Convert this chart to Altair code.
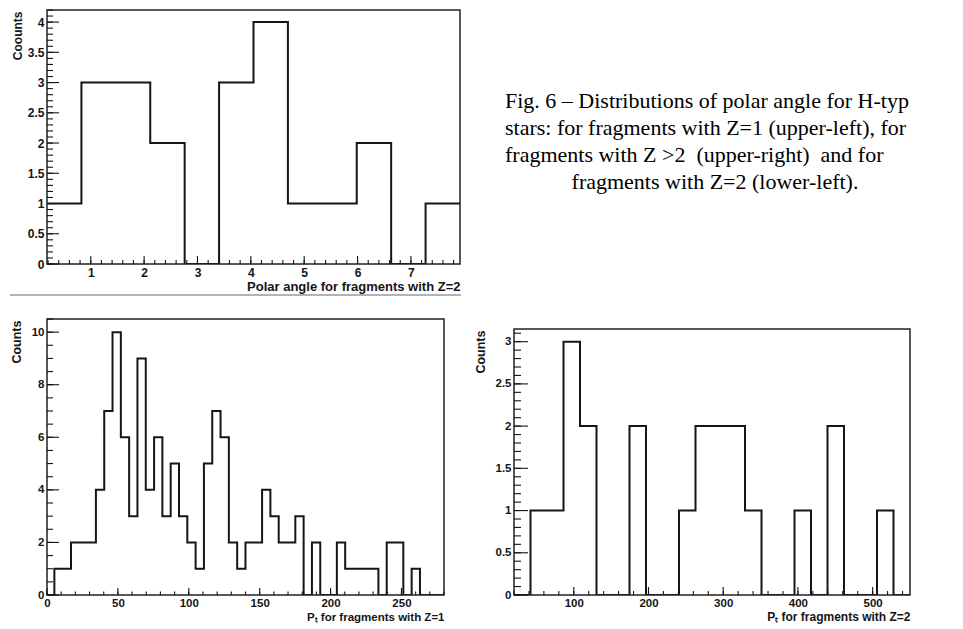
import altair as alt
import numpy as np
import pandas as pd

FONT = "Liberation Sans"
SERIF = "Liberation Serif"
INK = "#151515"

# ---------------- data ----------------
# upper-left: polar angle for fragments with Z=2 (12 bins over [0.18, 7.92])
tl_range = [0.18, 7.92]
tl_counts = [1, 3, 3, 2, 0, 3, 4, 1, 1, 2, 0, 1]
tl_ymax = 4.2
tl_xlabels = [1, 2, 3, 4, 5, 6, 7]
tl_ylabels = [0, 0.5, 1, 1.5, 2, 2.5, 3, 3.5, 4]

# lower-left: Pt for fragments with Z=1 (bin width 5.86, first edge -0.66)
bl_first_edge = -0.66
bl_bin_width = 5.86
bl_counts = [0, 1, 1, 2, 2, 2, 4, 7, 10, 6, 3, 9, 4, 6, 3, 5, 3, 2, 1, 5, 7, 6,
             2, 1, 2, 2, 4, 3, 2, 2, 3, 0, 2, 0, 0, 2, 1, 1, 1, 1, 0, 2, 2, 0,
             1, 0, 0, 0]
bl_xrange = [0, 280]
bl_ymax = 10.5
bl_xlabels = [0, 50, 100, 150, 200, 250]
bl_ylabels = [0, 2, 4, 6, 8, 10]

# lower-right: Pt for fragments with Z=2 (24 bins over [20, 550])
br_range = [20, 550]
br_counts = [0, 1, 1, 3, 2, 0, 0, 2, 0, 0, 1, 2, 2, 2, 1, 0, 0, 1, 0, 2, 0, 0, 1, 0]
br_ymax = 3.15
br_xlabels = [100, 200, 300, 400, 500]
br_ylabels = [0, 0.5, 1, 1.5, 2, 2.5, 3]

caption_lines = [
    "Fig. 6 \u2013 Distributions of polar angle for H-type",
    "stars: for fragments with Z=1 (upper-left), for",
    "fragments with Z >2 \u00a0(upper-right) \u00a0and for",
    "fragments with Z=2 (lower-left).",
]

ONE = pd.DataFrame({"k": [0]})


def step_frame(edges, counts):
    xs = list(edges)
    ys = list(counts) + [counts[-1]]
    return pd.DataFrame({"x": xs, "y": ys})


def bounds_box(L, R, T, B, W, H):
    # invisible box that fixes the panel's layout extents
    return alt.Chart(ONE).mark_rect(opacity=0).encode(
        x=alt.value(-L), x2=alt.value(W + R), y=alt.value(-T), y2=alt.value(H + B))


def panel(edges, counts, xdom, ydom, W, H, xlabels, ylabels, xminor, yminor,
          xtitle, ytitle, lab_size, xt_size, yt_size, ytitle_x, xtitle_y,
          box, xtick=(8, 4), ytick=(12, 6), top=0, sep=False, xpad=3):
    hist = step_frame(edges, counts)
    xs = alt.Scale(domain=xdom, nice=False, zero=False)
    ys = alt.Scale(domain=ydom, range=[H, top], nice=False, zero=False)

    xaxis = alt.Axis(
        values=xlabels, labelExpr="datum.value + ''", ticks=False, tickSize=0,
        domain=False, grid=False, labelFont=FONT, labelFontWeight="bold",
        labelFontSize=lab_size, labelColor=INK, labelPadding=xpad,
        labelFlush=False, labelOverlap=False,
        title=xtitle, titleFont=FONT, titleFontWeight="bold",
        titleFontSize=xt_size, titleColor=INK, titleAnchor="end",
        titleAlign="right", titleBaseline="alphabetic",
        titleX=W, titleY=xtitle_y)
    yaxis = alt.Axis(
        values=ylabels, labelExpr="datum.value + ''", ticks=False, tickSize=0,
        domain=False, grid=False, labelFont=FONT, labelFontWeight="bold",
        labelFontSize=lab_size, labelColor=INK, labelPadding=3,
        labelFlush=False, labelOverlap=False,
        title=ytitle, titleFont=FONT, titleFontWeight="bold",
        titleFontSize=yt_size, titleColor=INK, titleAnchor="end",
        titleAngle=-90, titleAlign="right", titleBaseline="alphabetic",
        titleX=ytitle_x, titleY=top + 1)

    line = alt.Chart(hist).mark_line(
        interpolate="step-after", color=INK, strokeWidth=2, clip=True
    ).encode(
        x=alt.X("x:Q", scale=xs, axis=xaxis),
        y=alt.Y("y:Q", scale=ys, axis=yaxis),
    )

    def xticks(vals, L):
        d = pd.DataFrame({"x": vals})
        return alt.Chart(d).mark_rule(color=INK, strokeWidth=1.1).encode(
            x=alt.X("x:Q", scale=xs, axis=xaxis),
            y=alt.value(H), y2=alt.value(H - L))

    def yticks(vals, L):
        d = pd.DataFrame({"y": vals})
        return alt.Chart(d).mark_rule(color=INK, strokeWidth=1.1).encode(
            y=alt.Y("y:Q", scale=ys, axis=yaxis),
            x=alt.value(0), x2=alt.value(L))

    frame = alt.Chart(ONE).mark_rect(
        fillOpacity=0, stroke="#222", strokeWidth=1.5
    ).encode(x=alt.value(0), x2=alt.value(W), y=alt.value(top), y2=alt.value(H))

    layers = [line, bounds_box(*box, W, H), frame,
              xticks(xminor, xtick[1]), xticks(xlabels, xtick[0]),
              yticks(yminor, ytick[1]), yticks(ylabels, ytick[0])]
    if sep:
        layers.append(alt.Chart(ONE).mark_rule(color="#9a9a9a", strokeWidth=1.5).encode(
            x=alt.value(-37), x2=alt.value(W + 1), y=alt.value(H + 31)))
    return alt.layer(*layers).properties(width=W, height=H)


def minor(lo, hi, step):
    start = np.ceil(lo / step - 1e-9) * step
    return [round(v, 6) for v in np.arange(start, hi + 1e-9, step)]


tl_edges = np.linspace(tl_range[0], tl_range[1], len(tl_counts) + 1)
bl_edges = [bl_first_edge + i * bl_bin_width for i in range(len(bl_counts) + 1)]
br_edges = np.linspace(br_range[0], br_range[1], len(br_counts) + 1)

# box = (left, right, top, bottom) extents around each plot area
tl = panel(tl_edges, tl_counts, tl_range, [0, tl_ymax], 413, 254,
           tl_xlabels, tl_ylabels, minor(tl_range[0], tl_range[1], 0.2),
           minor(0, tl_ymax, 0.1),
           "Polar angle for fragments with Z=2", "Coounts",
           12, 13, 12, -26, 26, box=(37, 1, 1, 32), sep=True)

bl = panel(bl_edges, bl_counts, bl_xrange, [0, bl_ymax], 397, 276,
           bl_xlabels, bl_ylabels, minor(0, 280, 10), minor(0, bl_ymax, 0.5),
           "P\u209c for fragments with Z=1", "Counts",
           11.5, 11.5, 12.5, -27, 25, box=(37, 10, 19, 28), xtick=(7, 3.5),
           xpad=2)

br = panel(br_edges, br_counts, br_range, [0, br_ymax], 396, 276,
           br_xlabels, br_ylabels, minor(br_range[0], br_range[1], 20),
           minor(0, br_ymax, 0.1),
           "P\u209c for fragments with Z=2", "Counts",
           11.5, 12, 12.5, -30, 25, box=(42, 1, 19, 28), ytick=(14, 7), top=10,
           xpad=2)

CAP_W, CAP_H = 396, 256
CAP_X = -9
cap_layers = [alt.Chart(ONE).mark_rect(opacity=0).encode(
    x=alt.value(0), x2=alt.value(CAP_W), y=alt.value(0), y2=alt.value(CAP_H))]
for i, txt in enumerate(caption_lines[:3]):
    cap_layers.append(alt.Chart(ONE).mark_text(
        text=txt, font=SERIF, fontSize=22, align="left", baseline="alphabetic",
        color="#000", limit=CAP_W - CAP_X, ellipsis="\u200b"
    ).encode(x=alt.value(CAP_X), y=alt.value(98 + 27 * i)))
cap_layers.append(alt.Chart(ONE).mark_text(
    text=caption_lines[3], font=SERIF, fontSize=22, align="center",
    baseline="alphabetic", color="#000"
).encode(x=alt.value(CAP_X + 210), y=alt.value(98 + 27 * 3)))
caption = alt.layer(*cap_layers).properties(width=CAP_W, height=CAP_H)

chart = alt.concat(
    tl, caption, bl, br, columns=2,
    spacing={"row": 2, "column": 8}, align="each"
).properties(padding=0).configure_view(stroke="transparent")

chart.save("out.html", embed_options={"renderer": "svg", "actions": False})
